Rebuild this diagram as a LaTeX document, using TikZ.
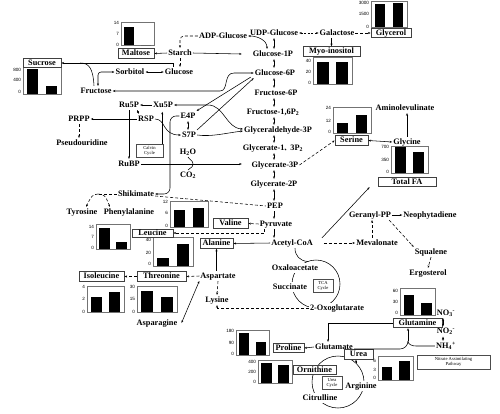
\documentclass[tikz,border=0pt]{standalone}
\usepackage{fontspec}
\setmainfont{Liberation Serif}
\newfontfamily\tickfont{Liberation Sans}
\newfontfamily\cjkf{Noto Sans CJK SC}
\usetikzlibrary{arrows.meta,calc}
\newcommand\lbf{\fontsize{8.3}{9}\selectfont\bfseries}
\newcommand\tickf{\tickfont\fontsize{4.6}{5}\selectfont}
\newcommand\tinyf{\fontsize{4.6}{5}\selectfont}
\newcommand\bchart[8]{%
  \draw[cbox] (#2,#3) rectangle (#4,#5);
  \fill ({#2+0.1*(#4-#2)},#5) rectangle ({#2+0.4*(#4-#2)},#6);
  \fill ({#2+0.6*(#4-#2)},#5) rectangle ({#2+0.9*(#4-#2)},#7);
  \foreach \lab/\yy [count=\i] in {#8} \node[tick] (#1-\i) at ({#2-1.5},\yy) {\lab};
}
\begin{document}
\begin{tikzpicture}[x=1pt,y=-1pt,
  lbl/.style={font=\lbf, inner sep=1pt, text height=6pt, text depth=1.8pt},
  bx/.style={draw=black!75, line width=0.8pt, font=\lbf, inner xsep=2pt, inner ysep=1pt, text height=6pt, text depth=1.5pt, fill=white},
  sbx/.style={draw=black!70, line width=0.5pt, font=\tinyf, align=center, inner sep=1pt, fill=white},
  cbox/.style={draw=black!55, line width=0.7pt},
  tick/.style={font=\tickf, anchor=east, inner sep=0.3pt},
  arr/.style={-{Stealth[length=2.6pt,width=2pt]}, line width=0.55pt},
  dsh/.style={line width=0.55pt, dash pattern=on 3pt off 2pt},
  darr/.style={arr, dash pattern=on 3pt off 2pt},
  dbl/.style={{Stealth[length=2.6pt,width=2pt]}-{Stealth[length=2.6pt,width=2pt]}, line width=0.55pt},
  ddbl/.style={dbl, dash pattern=on 2pt off 1.5pt},
  cyc/.style={line width=0.55pt}]
\useasboundingbox (0,0) rectangle (500,413);

% ---------- charts ----------
\bchart{cmal}{121}{22}{154}{45}{27}{45}{14/23,7/34,0/45}
\bchart{cgly}{371}{1}{407}{27}{4}{3}{3000/3,1500/14,0/27}
\bchart{cmyo}{313}{57}{352}{84}{62}{62}{40/61,20/72,0/83}
\bchart{csuc}{23}{67}{61}{94}{69}{86}{800/70,400/80,0/92}
\bchart{cser}{333}{107}{371}{133}{123}{115}{24/108,12/121,0/132}
\bchart{cfa}{391}{146}{428}{173}{147}{152}{700/147,350/160,0/172}
\bchart{cval}{170}{201}{208}{227}{210}{208}{12/202,6/213,0/226}
\bchart{cleu}{96}{224}{130}{249}{228}{242}{14/227,7/237,0/248}
\bchart{cala}{153}{237}{193}{266}{258}{244}{40/240,20/253,0/264}
\bchart{cile}{87}{286}{124}{312}{297}{292}{4/287,2/299,0/312}
\bchart{cthr}{137}{286}{177}{312}{291}{297}{30/287,15/299,0/312}
\bchart{cpro}{236}{330}{269}{355}{333}{342}{180/331,90/343,0/354}
\bchart{corn}{258}{360}{292}{383}{363}{365}{400/362,200/372,0/382}
\bchart{cgln}{400}{288}{435}{315}{295}{303}{60/291,30/302,0/313}
\bchart{curea}{378}{356}{413}{380}{367}{361}{6/361,3/370,0/378}

% ---------- cycles ----------
\draw[cyc] (316,284) circle (24pt);
\draw[cyc] (338,382) circle (26pt);

% ---------- text nodes ----------
\node[lbl] (adp) at (223,36) {ADP-Glucose};
\node[lbl] (udp) at (274,33) {UDP-Glucose};
\node[lbl] (gal) at (337,33) {Galactose};
\node[lbl] (starch) at (180,53) {Starch};
\node[lbl] (g1p) at (273,54) {Glucose-1P};
\node[lbl] (glucose) at (179,72) {Glucose};
\node[lbl] (sorbitol) at (130,72) {Sorbitol};
\node[lbl] (g6p) at (275,73) {Glucose-6P};
\node[lbl] (fructose) at (96,91) {Fructose};
\node[lbl] (f6p) at (276,93) {Fructose-6P};
\node[lbl] (f16) at (273,112) {Fructose-1,6P\textsubscript{2}};
\node[lbl] (ru5p) at (129,105) {Ru5P};
\node[lbl] (xu5p) at (163,105) {Xu5P};
\node[lbl] (prpp) at (79,119) {PRPP};
\node[lbl] (r5p) at (146,119) {RSP};
\node[lbl] (e4p) at (188,116) {E4P};
\node[lbl] (s7p) at (189,135) {S7P};
\node[lbl] (ga3p) at (278,130) {Glyceraldehyde-3P};
\node[lbl] (pseudo) at (82,143) {Pseudouridine};
\node[lbl] (h2o) at (188,152) {H\textsubscript{2}O};
\node[lbl] (co2) at (188,175) {CO\textsubscript{2}};
\node[lbl] (rubp) at (129,164) {RuBP};
\node[lbl] (g13) at (273,148) {Glycerate-1{\cjkf\fontsize{6}{6}\selectfont 、}3P\textsubscript{2}};
\node[lbl] (g3p) at (275,165) {Glycerate-3P};
\node[lbl] (g2p) at (274,184) {Glycerate-2P};
\node[lbl] (shik) at (136,194) {Shikimate};
\node[lbl] (tyr) at (82,212) {Tyrosine};
\node[lbl] (phe) at (129,212) {Phenylalanine};
\node[lbl] (pep) at (275,206) {PEP};
\node[lbl] (pyr) at (276,224) {Pyruvate};
\node[lbl] (acoa) at (292,243) {Acetyl-CoA};
\node[lbl] (amino) at (405,108) {Aminolevulinate};
\node[lbl] (glycine) at (407,142) {Glycine};
\node[lbl] (geranyl) at (370,215) {Geranyl-PP};
\node[lbl] (neo) at (430,215) {Neophytadiene};
\node[lbl] (meva) at (377,243) {Mevalonate};
\node[lbl] (squalene) at (431,252) {Squalene};
\node[lbl] (ergo) at (428,273) {Ergosterol};
\node[lbl,fill=white] (oxalo) at (295,268) {Oxaloacetate};
\node[lbl,fill=white] (succ) at (290,287) {Succinate};
\node[lbl,fill=white] (oxoglu) at (337,308) {2-Oxoglutarate};
\node[lbl] (asp) at (218,276) {Aspartate};
\node[lbl] (lys) at (217,300) {Lysine};
\node[lbl] (asn) at (157,323) {Asparagine};
\node[lbl] (glu) at (334,347) {Glutamate};
\node[lbl,fill=white] (arg) at (361,386) {Arginine};
\node[lbl,fill=white] (cit) at (320,398) {Citrulline};
\node[lbl] (no3) at (446,313) {NO\textsubscript{3}\textsuperscript{-}};
\node[lbl] (no2) at (446,331.5) {NO\textsubscript{2}\textsuperscript{-}};
\node[lbl] (nh4) at (446,346) {NH\textsubscript{4}\textsuperscript{+}};

% ---------- boxed nodes ----------
\node[bx, minimum width=36pt] (maltose) at (136,53.5) {Maltose};
\node[bx, minimum width=40pt] (glycerol) at (391,33) {Glycerol};
\node[bx, minimum width=57pt] (myo) at (331.5,51.5) {Myo-inositol};
\node[bx, minimum width=38pt] (sucrose) at (42,63) {Sucrose};
\node[bx, minimum width=33pt] (serine) at (351.5,140.5) {Serine};
\node[bx, minimum width=58pt] (totalfa) at (407,182) {Total FA};
\node[bx, minimum width=35pt] (valine) at (230.5,223.5) {Valine};
\node[bx, minimum width=41pt, inner ysep=0.2pt] (leucine) at (152.5,233) {Leucine};
\node[bx, minimum width=33pt] (alanine) at (216.5,243.5) {Alanine};
\node[bx, minimum width=49pt] (threonine) at (161.5,276.5) {Threonine};
\node[bx, minimum width=45pt] (isoleucine) at (101.5,276.5) {Isoleucine};
\node[bx, minimum width=31pt] (proline) at (288.5,348) {Proline};
\node[bx, minimum width=43pt] (ornithine) at (314.5,370) {Ornithine};
\node[bx, minimum width=29pt] (urea) at (358.5,354.5) {Urea};
\node[bx, minimum width=49pt] (glutamine) at (417.5,323) {Glutamine};
\node[sbx, minimum width=27pt, minimum height=13pt] (calvin) at (149.5,150.5) {Calvin\\Cycle};
\node[sbx, minimum width=20pt, minimum height=13pt] (tca) at (323,286) {TCA\\Cycle};
\node[sbx, minimum width=20pt, minimum height=13pt] (ucyc) at (332,382.5) {Urea\\Cycle};
\node[sbx, minimum width=73pt, minimum height=14pt] (nitrate) at (453.5,362) {Nitrate Assimilating\\Pathway};

% ---------- helper coordinates ----------
\coordinate (cx) at (274,0);
\coordinate (sj) at (80,63);
\coordinate (sb) at (98,194);
\coordinate (nj) at (408,341);
\coordinate (ua) at (356,363);

% ---------- sugar part ----------
\draw[dbl] (adp.east) to[out=0,in=90] ([xshift=-6pt]g1p.north);
\draw[dbl] (udp.south -| cx) -- (g1p.north -| cx);
\draw[ddbl] (udp.east) -- (gal.west);
\draw[darr] (gal.east) -- (glycerol.west);
\draw[arr] (gal.south -| myo.north) -- (myo.north);
\draw[darr, rounded corners=4pt] (adp.west) -| (starch.north);
\draw[arr] (starch.west) -- (maltose.east);
\draw[arr] (starch.east) -- ([xshift=-10pt]g1p.west);
\draw[darr] (starch.south) -- (starch.south |- glucose.north);
\draw[arr] ([xshift=-6pt]glucose.north) |- (sucrose.east);
\draw[cyc] (sj) .. controls (89,63) and (93,68) .. ([xshift=-2pt]fructose.north);
\draw[dbl, rounded corners=3pt] ([xshift=2pt]fructose.north) |- (sorbitol.west);
\draw[dbl] (sorbitol.east) -- (glucose.west);
\draw[dbl] (fructose.east) -- (220,91) .. controls (229,91) and (223,73) .. (234,73) -- (g6p.west);

% chain
\draw[dbl] (g1p.south -| cx) -- (g6p.north -| cx);
\draw[dbl] (g6p.south -| cx) -- (f6p.north -| cx);
\draw[dbl] (f6p.south -| cx) -- (f16.north -| cx);
\draw[dbl] (f16.south -| cx) -- (ga3p.north -| cx);
\draw[dbl] (ga3p.south -| cx) -- (g13.north -| cx);
\draw[dbl] (g13.south -| cx) -- (g3p.north -| cx);
\draw[dbl] (g3p.south -| cx) -- (g2p.north -| cx);
\draw[dbl] (g2p.south -| cx) -- (pep.north -| cx);
\draw[arr] (pep.south -| cx) -- (pyr.north -| cx);
\draw[arr] (pyr.south -| cx) -- (acoa.north -| cx);

% pentose phosphate / Calvin
\draw[arr] (xu5p.west) -- (ru5p.east);
\draw[arr] (ru5p.south) -- (rubp.north);
\draw[ddbl] ([xshift=-3pt]ru5p.south east) -- ([xshift=2pt]r5p.north west);
\draw[arr] (r5p.west) -- (prpp.east);
\draw[darr] (prpp.south) -- (prpp.south |- pseudo.north);
\draw[arr] (r5p.east) .. controls (166,119) and (162,135) .. (s7p.west);
\draw[dbl] (e4p.south) -- (e4p.south |- s7p.north);
\draw[arr, rounded corners=6pt] (e4p.west) -| (170,194) -- (shik.east);
\draw[arr] ([xshift=-1pt]calvin.north east) -- ++(0,-32);
\draw[arr] (rubp.east) -- ++(101,0);
\draw[cyc] (h2o.south) .. controls (189,160) and (193,160) .. (193,164) .. controls (193,168) and (189,168) .. (co2.north);
\draw[dbl] (xu5p.east) -- (208,105) .. controls (224,105) and (226,128) .. ([yshift=1pt]ga3p.west);
\draw[arr] (s7p.east) .. controls (212,137) and (226,133) .. ([yshift=-1pt]ga3p.west);
\draw[arr] (s7p.north east) -- (g6p.south west);
\draw[arr] ([xshift=-3pt,yshift=1pt]g6p.south west) -- (e4p.north east);

% shikimate
\draw[dsh] ([yshift=-2pt]shik.east) -- (pep.west);
\draw[dsh] (shik.west) -- (sb);
\draw[darr] (sb) .. controls (92,195) .. ([xshift=4pt]tyr.north);
\draw[darr] (sb) .. controls (105,195) .. ([xshift=-19pt]phe.north);

% serine, glycine
\draw[darr] (g3p.east) -- (serine.west);
\draw[dbl] (serine.east) -- (glycine.west);
\draw[arr] (glycine.north) -- (glycine.north |- amino.south);

% pyruvate / acetyl-CoA
\draw[darr] (pyr.west) -- (valine.east);
\draw[darr] ([xshift=6pt]pyr.south west) |- (leucine.east);
\draw[arr] (acoa.west) -- (alanine.east);
\draw[arr] ([xshift=8pt]acoa.north east) -- ([xshift=-8pt]totalfa.south west);
\draw[darr] ([xshift=10pt]acoa.east) -- (meva.west);
\draw[darr] ([xshift=-5pt]meva.north) -- ([xshift=2pt]geranyl.south);
\draw[arr] (geranyl.east) -- (neo.west);
\draw[darr] ([xshift=-3pt]geranyl.south east) -- (squalene.north west);
\draw[darr] (squalene.south) -- (ergo.north);
\draw[cyc] ([xshift=3pt]acoa.south) .. controls (295,256) and (300,261) .. (308,261.5);

% aspartate family
\draw[arr] (asp.north -| alanine.south) -- (alanine.south);
\draw[darr] (asp.south) -- (lys.north);
\draw[darr] (oxoglu.west) -| (lys.south);
\draw[darr] (asp.west) -- (threonine.east);
\draw[darr] (threonine.west) -- (isoleucine.east);
\draw[dbl] ([xshift=3pt]asn.east) -- (asp.south west);

% nitrogen
\draw[arr] (glutamine.west) -| ([xshift=-6pt]glu.north);
\draw[arr] (glu.west) -- (proline.east);
\draw[cyc] ([yshift=-2pt]glu.east) -- (400,349) to[out=0,in=270] (nj);
\draw[cyc] (nh4.west) -- (416,346) to[out=180,in=270] (nj);
\draw[arr] (nj) -- (nj |- glutamine.south);
\draw[dbl] ([xshift=-3pt]no3.south) -- ([xshift=-3pt]no2.north);
\draw[dbl] ([xshift=-3pt]no2.south) -- ([xshift=-3pt]nh4.north);
\draw[arr] (ua) -- (ua |- urea.south);
\end{tikzpicture}
\end{document}
